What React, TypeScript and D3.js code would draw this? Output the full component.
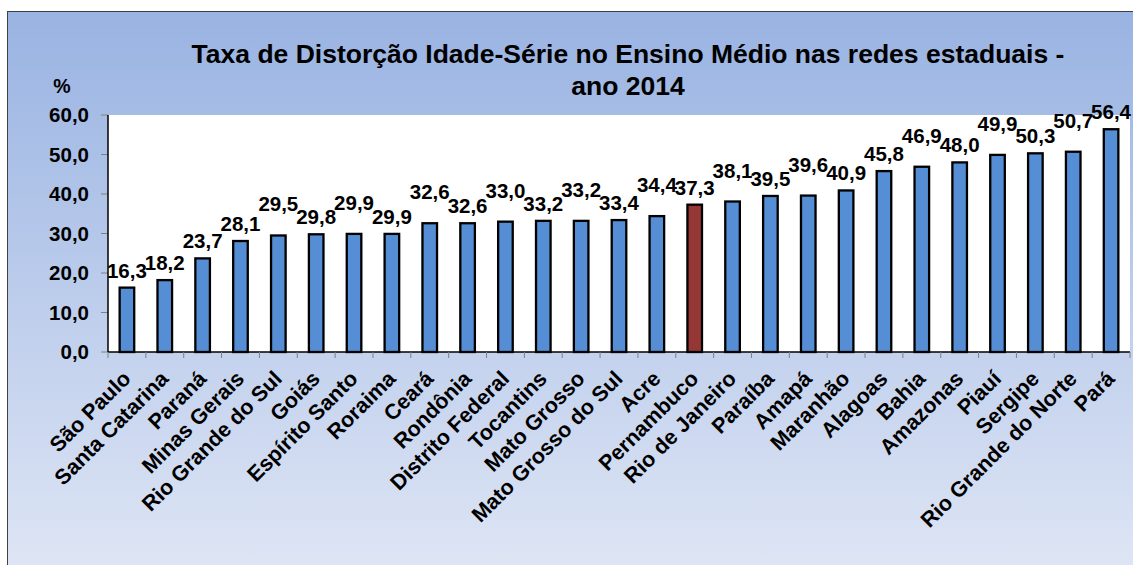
import React from "react";
import * as d3 from "d3";

const categories = [
  "São Paulo", "Santa Catarina", "Paraná", "Minas Gerais", "Rio Grande do Sul",
  "Goiás", "Espírito Santo", "Roraima", "Ceará", "Rondônia", "Distrito Federal",
  "Tocantins", "Mato Grosso", "Mato Grosso do Sul", "Acre", "Pernambuco",
  "Rio de Janeiro", "Paraíba", "Amapá", "Maranhão", "Alagoas", "Bahia",
  "Amazonas", "Piauí", "Sergipe", "Rio Grande do Norte", "Pará",
];
const values = [
  16.3, 18.2, 23.7, 28.1, 29.5, 29.8, 29.9, 29.9, 32.6, 32.6, 33.0, 33.2, 33.2,
  33.4, 34.4, 37.3, 38.1, 39.5, 39.6, 40.9, 45.8, 46.9, 48.0, 49.9, 50.3, 50.7, 56.4,
];
const highlighted = "Pernambuco";
const yTicks = [0, 10, 20, 30, 40, 50, 60];
const titleLines = [
  "Taxa de Distorção Idade-Série no Ensino Médio nas redes estaduais -",
  "ano 2014",
];
const yUnit = "%";

const W = 1133;
const H = 565;
const plot = { left: 108, right: 1130, top: 115, bottom: 352 };
const FONT = "'Liberation Sans', Arial, Helvetica, sans-serif";
const fmt = (v: number) => d3.format(".1f")(v).replace(".", ",");

export default function App() {
  const x = d3
    .scaleBand<string>()
    .domain(categories)
    .range([plot.left, plot.right])
    .paddingInner(0.615)
    .paddingOuter(0.3075);
  const y = d3.scaleLinear().domain([0, 60]).range([plot.bottom, plot.top]);
  const step = x.step();

  // value label placement: stagger upward when colliding with previous label
  const labelY: number[] = [];
  const raised: boolean[] = [];
  values.forEach((v, i) => {
    const top = y(v);
    let b = top - 10;
    let r = false;
    if (i > 1 && !raised[i - 1] && Math.abs(b - labelY[i - 1]) < 12) {
      b = top - 24;
      r = true;
    }
    labelY.push(b);
    raised.push(r);
  });

  return (
    <svg
      width={W}
      height={H}
      style={{ position: "absolute", left: 0, top: 0, overflow: "hidden" }}
      fontFamily={FONT}
    >
      <defs>
        <linearGradient id="bg" x1="0" y1="0" x2="0" y2="1">
          <stop offset="0" stopColor="#99b3e2" />
          <stop offset="1" stopColor="#dfe6f5" />
        </linearGradient>
      </defs>
      <rect x={7.5} y={11.5} width={W} height={H} fill="url(#bg)" stroke="#404040" strokeWidth={1} />
      <rect
        x={plot.left}
        y={plot.top}
        width={plot.right - plot.left}
        height={plot.bottom - plot.top}
        fill="#ffffff"
      />
      {/* title */}
      <text x={628} y={63} textAnchor="middle" fontSize={26.5} fontWeight="bold" fill="#000">
        {titleLines[0]}
      </text>
      <text x={628} y={95} textAnchor="middle" fontSize={26.5} fontWeight="bold" fill="#000">
        {titleLines[1]}
      </text>
      <text x={62} y={93} textAnchor="middle" fontSize={19.5} fontWeight="bold">
        {yUnit}
      </text>
      {/* y axis */}
      {yTicks.map((t) => (
        <g key={t}>
          <line x1={101} x2={plot.left} y1={y(t)} y2={y(t)} stroke="#808080" strokeWidth={1} />
          <text x={89} y={y(t) + 7} textAnchor="end" fontSize={20.5} fontWeight="bold">
            {fmt(t)}
          </text>
        </g>
      ))}
      {/* bars */}
      {categories.map((c, i) => (
        <rect
          key={c}
          x={x(c)!}
          y={y(values[i])}
          width={x.bandwidth()}
          height={plot.bottom - y(values[i])}
          fill={c === highlighted ? "#953735" : "#558ed5"}
          stroke="#000"
          strokeWidth={2.3}
        />
      ))}
      <line x1={plot.left} x2={plot.left} y1={plot.top} y2={plot.bottom} stroke="#000" strokeWidth={1.5} />
      <line x1={plot.left} x2={plot.right} y1={plot.bottom} y2={plot.bottom} stroke="#000" strokeWidth={1.5} />
      {d3.range(categories.length + 1).map((k) => (
        <line
          key={k}
          x1={plot.left + k * step}
          x2={plot.left + k * step}
          y1={plot.bottom}
          y2={plot.bottom + 6}
          stroke="#808080"
          strokeWidth={1}
        />
      ))}
      {/* value labels */}
      {categories.map((c, i) => (
        <text
          key={c}
          x={x(c)! + x.bandwidth() / 2}
          y={labelY[i]}
          textAnchor="middle"
          fontSize={20.5}
          fontWeight="bold"
        >
          {fmt(values[i])}
        </text>
      ))}
      {/* category labels */}
      {categories.map((c) => {
        const cx = x(c)! + x.bandwidth() / 2;
        return (
          <text
            key={c}
            transform={`translate(${cx + 5},${plot.bottom + 28}) rotate(-45)`}
            textAnchor="end"
            fontSize={21.5}
            fontWeight="bold"
          >
            {c}
          </text>
        );
      })}
    </svg>
  );
}
